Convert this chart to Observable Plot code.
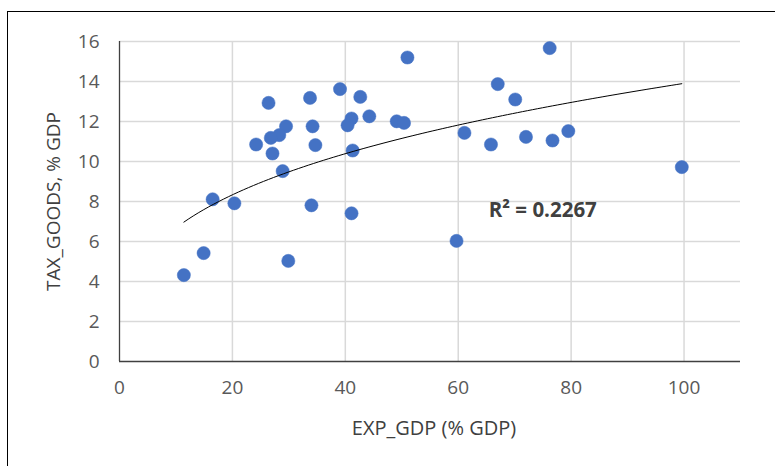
<!DOCTYPE html>
<html><head><meta charset="utf-8">
<script src="https://cdn.jsdelivr.net/npm/d3@7"></script>
<script src="https://cdn.jsdelivr.net/npm/@observablehq/plot@0.6"></script>
<style>
body{margin:0;background:#fff;}
#wrap{position:relative;width:775px;height:466px;overflow:hidden;}
#frame{position:absolute;left:7px;top:11px;width:900px;height:600px;border-left:1px solid #000;border-top:1px solid #000;}
#chart{position:absolute;left:0;top:0;}
</style></head><body>
<div id="wrap"><div id="frame"></div><div id="chart"></div></div>
<script>
const expGdp = [51.0, 26.4, 33.75, 39.06, 42.65, 44.25, 41.1, 40.4, 49.1, 50.4, 29.5, 28.3, 26.8, 34.2, 24.2, 34.7, 27.1, 41.3, 28.9, 16.5, 20.35, 34.0, 41.1, 14.9, 11.4, 29.9, 76.2, 67.0, 70.1, 61.1, 65.8, 72.0, 76.7, 79.5, 99.6, 59.7];
const taxGoods = [15.2, 12.93, 13.18, 13.62, 13.23, 12.26, 12.15, 11.81, 12.01, 11.93, 11.76, 11.32, 11.18, 11.76, 10.85, 10.82, 10.4, 10.55, 9.52, 8.11, 7.91, 7.81, 7.41, 5.42, 4.32, 5.03, 15.67, 13.87, 13.1, 11.43, 10.85, 11.23, 11.05, 11.52, 9.72, 6.03];
const xTicks = [0, 20, 40, 60, 80, 100];
const yTicks = [0, 2, 4, 6, 8, 10, 12, 14, 16];
const xLabel = "EXP_GDP (% GDP)";
const yLabel = "TAX_GOODS, % GDP";
const r2Label = "R\u00b2 = 0.2267";

const points = expGdp.map((x, i) => ({x, y: taxGoods[i]}));

// power trendline fitted from the data (ln y = ln a + b ln x)
const lx = points.map(d => Math.log(d.x)), ly = points.map(d => Math.log(d.y));
const mx = d3.mean(lx), my = d3.mean(ly);
const b = d3.sum(lx, (v, i) => (v - mx) * (ly[i] - my)) / d3.sum(lx, v => (v - mx) ** 2);
const a = Math.exp(my - b * mx);
const [xmin, xmax] = d3.extent(expGdp);
const trend = d3.range(0, 101).map(k => {
  const x = xmin + (xmax - xmin) * k / 100;
  return {x, y: a * Math.pow(x, b)};
});

const plot = Plot.plot({
  width: 775, height: 466,
  marginLeft: 119, marginRight: 35, marginTop: 41, marginBottom: 105,
  x: {domain: [0, 110]},
  y: {domain: [0, 16]},
  style: {fontFamily: "'Open Sans', sans-serif", background: "transparent"},
  marks: [
    Plot.gridY(yTicks.filter(d => d > 0), {stroke: "#d9d9d9", strokeOpacity: 1, strokeWidth: 1.5}),
    Plot.gridX(xTicks.filter(d => d > 0), {stroke: "#d9d9d9", strokeOpacity: 1, strokeWidth: 1.5}),
    Plot.axisY(yTicks, {tickSize: 0, tickPadding: 20, fontSize: 19, color: "#595959", label: null}),
    Plot.axisX(xTicks, {tickSize: 0, tickPadding: 19, fontSize: 19, color: "#595959", label: null}),
    Plot.ruleX([0], {stroke: "#404040", strokeWidth: 1.3}),
    Plot.ruleY([0], {stroke: "#404040", strokeWidth: 1.3}),
    Plot.dot(points, {x: "x", y: "y", r: 6.6, fill: "#4472C4", stroke: "#4472C4", strokeWidth: 0.5}),
    Plot.line(trend, {x: "x", y: "y", stroke: "#000", strokeWidth: 1}),
    Plot.text([xLabel], {frameAnchor: "bottom", textAnchor: "middle", dx: 4, dy: 67, lineAnchor: "middle", fontSize: 20, fill: "#404040", style: "letter-spacing:1.2px"}),
    Plot.text([yLabel], {frameAnchor: "left", textAnchor: "middle", dx: -66, rotate: -90, lineAnchor: "middle", fontSize: 19, fill: "#404040"}),
    Plot.text([r2Label], {x: 65.4, y: 7.22, textAnchor: "start", lineAnchor: "bottom", fontSize: 20.5, fontWeight: "bold", fill: "#404040"})
  ]
});
document.getElementById("chart").appendChild(plot);
</script>
</body></html>
